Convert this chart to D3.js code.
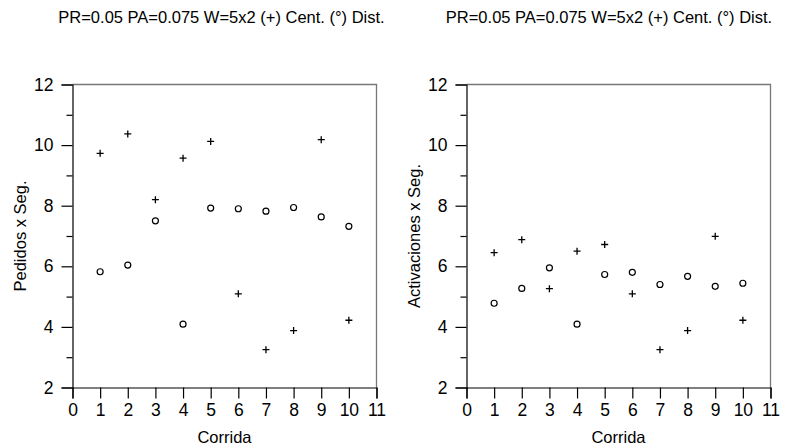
<!DOCTYPE html>
<html>
<head>
<meta charset="utf-8">
<script src="https://cdn.jsdelivr.net/npm/d3@7"></script>
<style>
  body { margin: 0; background: #fff; }
  text { font-family: "Liberation Sans", Arial, sans-serif; fill: #000; }
</style>
</head>
<body>
<div id="chart"></div>
<script>
// run numbers 1..10
var runs = [1, 2, 3, 4, 5, 6, 7, 8, 9, 10];

// left panel: Pedidos x Seg.
var pedidosCent = [9.73, 10.37, 8.2, 9.57, 10.12, 5.09, 3.25, 3.88, 10.18, 4.22];
var pedidosDist = [5.82, 6.04, 7.5, 4.09, 7.92, 7.9, 7.82, 7.94, 7.63, 7.32];

// right panel: Activaciones x Seg.
var activCent = [6.45, 6.88, 5.26, 6.5, 6.72, 5.09, 3.25, 3.88, 6.99, 4.22];
var activDist = [4.78, 5.27, 5.95, 4.09, 5.73, 5.8, 5.4, 5.67, 5.34, 5.44];

var xTicks = [0, 1, 2, 3, 4, 5, 6, 7, 8, 9, 10, 11];
var yMajor = [2, 4, 6, 8, 10, 12];
var yMinor = [3, 5, 7, 9, 11];

var titleText = "PR=0.05 PA=0.075 W=5x2 (+) Cent. (\u00b0) Dist.";

var W = 785, H = 446;
var svg = d3.select("#chart").append("svg")
    .attr("width", W)
    .attr("height", H);

var panels = [
  {left: 72.5, title: 221.5, ylabel: "Pedidos x Seg.", cent: pedidosCent, dist: pedidosDist},
  {left: 466.5, title: 609, ylabel: "Activaciones x Seg.", cent: activCent, dist: activDist}
];

var pw = 304, plotTop = 84.5, plotBottom = 387.5;

panels.forEach(function (p) {
  var x = d3.scaleLinear().domain([0, 11]).range([p.left, p.left + pw]);
  var y = d3.scaleLinear().domain([2, 12]).range([plotBottom, plotTop]);

  var g = svg.append("g");

  // top and right frame (grey)
  g.append("path")
      .attr("d", "M" + p.left + "," + plotTop + "H" + (p.left + pw) + "V" + plotBottom)
      .attr("fill", "none")
      .attr("stroke", "#777")
      .attr("stroke-width", 1.3);

  // x axis
  var xa = g.append("g")
      .attr("transform", "translate(0," + plotBottom + ")")
      .call(d3.axisBottom(x).tickValues(xTicks).tickSize(11).tickPadding(5).tickFormat(d3.format("d")));
  xa.select(".domain").attr("stroke", "#000").attr("stroke-width", 1.2);
  xa.selectAll(".tick line").attr("stroke", "#000").attr("stroke-width", 1.2);
  xa.selectAll("text").style("font-size", "17.5px").attr("font-family", null);

  // y axis
  var ya = g.append("g")
      .attr("transform", "translate(" + p.left + ",0)")
      .call(d3.axisLeft(y).tickValues(yMajor).tickSize(11).tickPadding(8).tickFormat(d3.format("d")));
  ya.select(".domain").attr("stroke", "#000").attr("stroke-width", 1.2);
  ya.selectAll(".tick line").attr("stroke", "#000").attr("stroke-width", 1.2);
  ya.selectAll("text").style("font-size", "17.5px").attr("font-family", null);

  g.append("g")
      .attr("transform", "translate(" + p.left + ",0)")
      .call(d3.axisLeft(y).tickValues(yMinor).tickSize(6).tickFormat(""))
      .call(function (s) {
        s.select(".domain").remove();
        s.selectAll(".tick line").attr("stroke", "#000").attr("stroke-width", 1.2);
      });

  // title
  g.append("text")
      .attr("x", p.title)
      .attr("y", 23)
      .attr("text-anchor", "middle")
      .style("font-size", "16.5px")
      .text(titleText);

  // axis labels
  g.append("text")
      .attr("x", p.left + pw / 2)
      .attr("y", 443)
      .attr("text-anchor", "middle")
      .style("font-size", "16.5px")
      .text("Corrida");

  g.append("text")
      .attr("transform", "translate(" + (p.left - 47) + "," + ((plotTop + plotBottom) / 2) + ") rotate(-90)")
      .attr("text-anchor", "middle")
      .style("font-size", "16.5px")
      .text(p.ylabel);

  // Cent. (+)
  g.selectAll(".cent")
      .data(p.cent)
      .enter().append("path")
      .attr("class", "cent")
      .attr("d", function (d, i) {
        var cx = x(runs[i]), cy = y(d);
        return "M" + (cx - 3.5) + "," + cy + "H" + (cx + 3.5) + "M" + cx + "," + (cy - 3.5) + "V" + (cy + 3.5);
      })
      .attr("stroke", "#000")
      .attr("stroke-width", 1.3);

  // Dist. (circles)
  g.selectAll(".dist")
      .data(p.dist)
      .enter().append("circle")
      .attr("class", "dist")
      .attr("cx", function (d, i) { return x(runs[i]); })
      .attr("cy", function (d) { return y(d); })
      .attr("r", 3)
      .attr("fill", "none")
      .attr("stroke", "#000")
      .attr("stroke-width", 1.2);
});
</script>
</body>
</html>
